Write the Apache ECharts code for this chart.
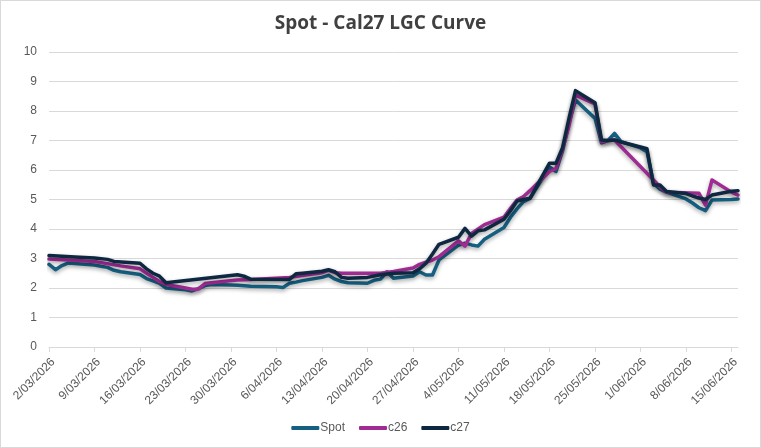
<!DOCTYPE html>
<html>
<head>
<meta charset="utf-8">
<script src="https://cdn.jsdelivr.net/npm/echarts@6/dist/echarts.min.js"></script>
<style>
  html, body { margin: 0; padding: 0; background: #fff; }
  #chart { width: 759px; height: 446px; border: 1px solid #d9d9d9; }
</style>
</head>
<body>
<div id="chart"></div>
<script>
// data (dates are 2026)
const startDate = '2026-03-02';
const endDate = '2026-06-16';
const seriesNames = ['Spot', 'c26', 'c27'];

const spotDates = ['03-02','03-03','03-04','03-05','03-06','03-09','03-10','03-11','03-12','03-13',
  '03-16','03-17','03-18','03-19','03-20','03-23','03-24','03-25','03-26','03-27',
  '03-30','03-31','04-01','04-02','04-06','04-07','04-08','04-09','04-10','04-13',
  '04-14','04-15','04-16','04-17','04-20','04-21','04-22','04-23','04-24','04-27',
  '04-28','04-29','04-30','05-01','05-04','05-05','05-06','05-07','05-08','05-11',
  '05-12','05-13','05-14','05-15','05-18','05-19','05-20','05-21','05-22','05-25',
  '05-26','05-27','05-28','05-29','06-01','06-02','06-03','06-04','06-05','06-08',
  '06-09','06-10','06-11','06-12','06-15','06-16'];
const spotValues = [2.80,2.62,2.76,2.85,2.83,2.78,2.74,2.70,2.60,2.55,
  2.46,2.32,2.24,2.16,2.00,1.94,1.90,1.98,2.08,2.12,
  2.10,2.09,2.08,2.06,2.04,2.02,2.16,2.20,2.25,2.36,
  2.43,2.30,2.22,2.18,2.16,2.26,2.30,2.55,2.33,2.41,
  2.55,2.44,2.44,2.95,3.45,3.52,3.46,3.42,3.65,4.05,
  4.40,4.68,4.93,5.04,6.10,5.95,6.65,7.60,8.37,7.75,
  6.92,7.00,7.24,6.96,6.75,6.62,5.55,5.35,5.25,5.02,
  4.88,4.72,4.62,4.98,5.00,5.02];

const c26Dates = ['03-02','03-09','03-13','03-16','03-17','03-18','03-19','03-20','03-23','03-24',
  '03-25','03-26','03-27','03-31','04-03','04-08','04-13','04-14','04-15','04-16',
  '04-22','04-24','04-27','04-28','04-30','05-01','05-04','05-05','05-06','05-08',
  '05-11','05-12','05-13','05-14','05-15','05-18','05-19','05-20','05-21','05-22',
  '05-25','05-26','05-27','05-28','06-03','06-04','06-05','06-10','06-11','06-12',
  '06-15','06-16'];
const c26Values = [2.98,2.90,2.75,2.65,2.50,2.36,2.22,2.12,2.00,1.96,
  1.97,2.15,2.18,2.27,2.30,2.36,2.52,2.60,2.52,2.50,
  2.50,2.56,2.68,2.80,2.95,3.06,3.60,3.42,3.85,4.15,
  4.40,4.70,4.98,5.10,5.30,5.95,6.05,6.70,7.50,8.54,
  8.24,6.96,7.00,7.02,5.66,5.43,5.25,5.21,4.81,5.66,
  5.25,5.15];

const c27Dates = ['03-02','03-06','03-09','03-11','03-12','03-16','03-17','03-18','03-19','03-20',
  '03-31','04-01','04-02','04-08','04-09','04-10','04-13','04-14','04-15','04-16',
  '04-17','04-20','04-22','04-24','04-27','04-28','04-29','04-30','05-01','05-04',
  '05-05','05-06','05-07','05-08','05-11','05-12','05-13','05-14','05-15','05-18',
  '05-19','05-20','05-21','05-22','05-25','05-26','05-27','05-28','05-29','06-01',
  '06-02','06-03','06-04','06-05','06-08','06-09','06-10','06-11','06-12','06-15',
  '06-16'];
const c27Values = [3.10,3.05,3.02,2.97,2.90,2.84,2.65,2.50,2.40,2.18,
  2.45,2.40,2.30,2.29,2.48,2.50,2.57,2.62,2.55,2.36,
  2.33,2.36,2.45,2.50,2.52,2.65,2.84,3.15,3.48,3.72,
  4.02,3.76,3.94,3.97,4.33,4.62,4.95,5.00,5.04,6.23,
  6.23,6.75,7.75,8.69,8.28,7.02,7.00,7.02,6.95,6.78,
  6.72,5.49,5.49,5.27,5.20,5.12,5.05,5.00,5.15,5.28,
  5.30];

const yTicks = [0,1,2,3,4,5,6,7,8,9,10];
const colors = ['#156082', '#A02B93', '#0E2841'];

// x axis is days since startDate, labels turned back into d/MM/yyyy
const DAY = 86400000;
const t0 = Date.parse(startDate + 'T00:00:00Z');
const dayOf = md => (Date.parse('2026-' + md + 'T00:00:00Z') - t0) / DAY;
const lastDay = (Date.parse(endDate + 'T00:00:00Z') - t0) / DAY;
const fmtDay = d => {
  const dt = new Date(t0 + d * DAY);
  const mm = String(dt.getUTCMonth() + 1).padStart(2, '0');
  return dt.getUTCDate() + '/' + mm + '/' + dt.getUTCFullYear();
};
const pairs = (dates, vals) => dates.map((d, i) => [dayOf(d), vals[i]]);

const allData = [pairs(spotDates, spotValues), pairs(c26Dates, c26Values), pairs(c27Dates, c27Values)];

const myChart = echarts.init(document.getElementById('chart'));
const option = {
  animation: false,
  title: {
    text: 'Spot - Cal27 LGC Curve',
    left: 'center',
    top: 8,
    textStyle: { fontFamily: 'Open Sans', fontSize: 19, fontWeight: 'bold', color: '#404040' }
  },
  legend: {
    bottom: 8,
    left: 'center',
    itemWidth: 28,
    itemHeight: 4,
    itemGap: 14,
    icon: 'roundRect',
    textStyle: { fontFamily: 'Liberation Sans', fontSize: 12, color: '#595959', padding: [0, 0, 0, -4] },
    data: seriesNames
  },
  grid: { left: 48, right: 22, top: 51, bottom: 100 },
  xAxis: {
    type: 'value',
    min: 0,
    max: lastDay,
    interval: 7,
    splitLine: { show: false },
    axisLine: { lineStyle: { color: '#d9d9d9' } },
    axisTick: { show: true, length: 5, lineStyle: { color: '#d9d9d9' } },
    axisLabel: {
      rotate: 45,
      margin: 9,
      verticalAlign: 'top',
      color: '#595959',
      fontFamily: 'Liberation Sans',
      fontSize: 12,
      showMaxLabel: false,
      formatter: v => fmtDay(v)
    }
  },
  yAxis: {
    type: 'value',
    min: yTicks[0],
    max: yTicks[yTicks.length - 1],
    interval: 1,
    axisLine: { show: false },
    axisTick: { show: false },
    splitLine: { lineStyle: { color: '#d9d9d9' } },
    axisLabel: { color: '#595959', fontFamily: 'Liberation Sans', fontSize: 12, margin: 12 }
  },
  series: seriesNames.map((name, i) => ({
    name,
    type: 'line',
    data: allData[i],
    showSymbol: false,
    symbol: 'none',
    color: colors[i],
    lineStyle: {
      width: 3.5,
      color: colors[i],
      join: 'round',
      cap: 'round',
      shadowColor: 'rgba(0,0,0,0.35)',
      shadowBlur: 4,
      shadowOffsetY: 2
    }
  }))
};
option && myChart.setOption(option);
</script>
</body>
</html>
